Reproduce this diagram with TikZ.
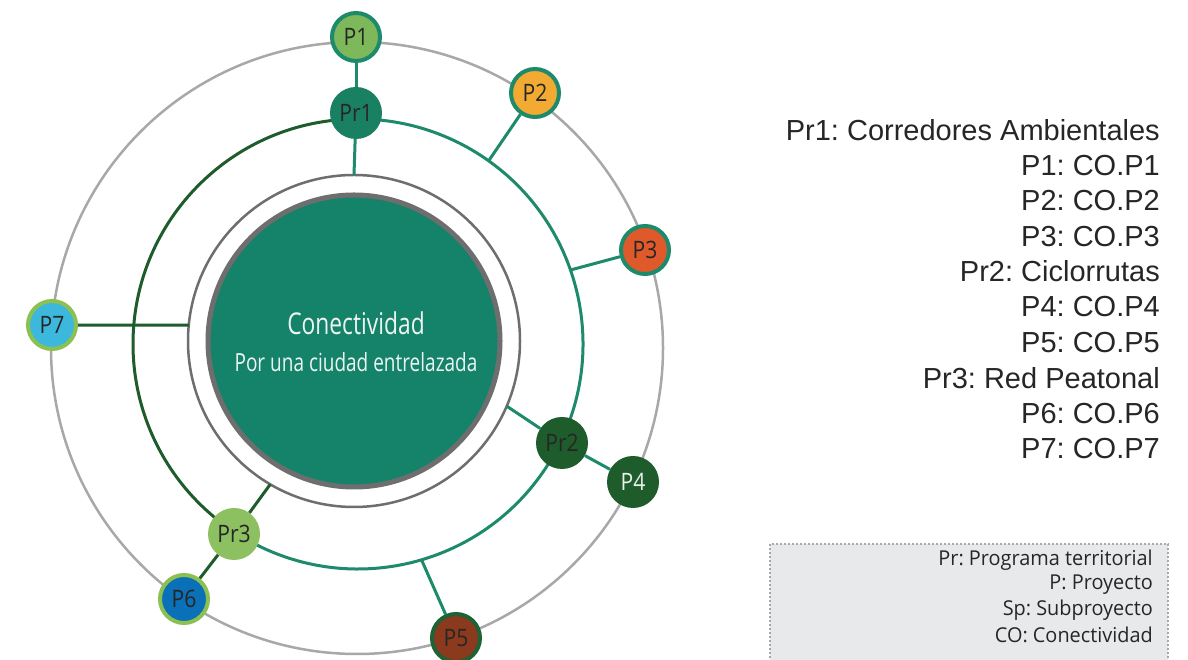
\documentclass[tikz,border=0pt]{standalone}
\usepackage{fontspec}
\usetikzlibrary{calc}
\frenchspacing
\newfontfamily\condf[FakeStretch=0.76]{Open Sans}
\newfontfamily\nodef[FakeStretch=0.88]{Open Sans}
\newfontfamily\boxf[FakeStretch=0.97]{Open Sans}
\newfontfamily\legf{Liberation Sans}
\definecolor{teal1}{HTML}{1E8A6C}
\definecolor{discc}{HTML}{15826A}
\definecolor{dkgreen}{HTML}{1E5C2B}
\definecolor{ltgreen}{HTML}{8CC152}
\definecolor{gray1}{HTML}{A8A8A8}
\definecolor{gray2}{HTML}{6E6E6E}
\definecolor{txtc}{HTML}{262626}
\definecolor{cP1}{HTML}{7DB85A}
\definecolor{cP2}{HTML}{F2AA32}
\definecolor{cP3}{HTML}{E0592A}
\definecolor{cP7}{HTML}{3CB8DC}
\definecolor{cP6}{HTML}{0A70B8}
\definecolor{cP5}{HTML}{8B3A1E}
\definecolor{cPr1}{HTML}{1A8062}
\definecolor{cPr3}{HTML}{8CC060}
\definecolor{boxfill}{HTML}{E8E9EB}
\begin{document}
\begin{tikzpicture}[x=1pt,y=1pt,
  bub/.style={circle,minimum size=48pt,inner sep=0pt,line width=4pt,
    font=\nodef\fontsize{24}{24}\selectfont,text=txtc},
  bubplain/.style={circle,minimum size=52pt,inner sep=0pt,
    font=\nodef\fontsize{24}{24}\selectfont,text=txtc},
  tealline/.style={draw=teal1,line width=3pt},
  darkline/.style={draw=dkgreen,line width=3pt},
  legtxt/.style={anchor=east,inner sep=0pt,font=\legf\fontsize{29}{30}\selectfont,text=txtc},
  boxtxt/.style={anchor=east,inner sep=0pt,font=\boxf\fontsize{20.5}{22}\selectfont,text=txtc}]
\useasboundingbox (0,0) rectangle (1188,660);
\fill[white] (0,0) rectangle (1188,660);
% centres
\coordinate (Co) at (357,312);
\coordinate (Cm) at (358,316);
\coordinate (Ci) at (354,319);
% rings
\draw[gray1,line width=2.5pt] (Co) circle (306);
\draw[dkgreen,line width=3pt] ($(Cm)+(90:225)$) arc (90:236.9:225);
\draw[teal1,line width=3pt] ($(Cm)+(-123.1:225)$) arc (-123.1:90:225);
\draw[gray2,line width=2.5pt] (Ci) circle (166);
\fill[discc] (Ci) circle (146);
\draw[gray2,line width=5pt] (Ci) circle (146);
\node[text=white!92!discc,font=\condf\fontsize{30}{30}\selectfont] (t1) at (356,337) {Conectividad};
\node[text=white!92!discc,font=\condf\fontsize{25}{25}\selectfont] (t2) at (356,298) {Por una ciudad entrelazada};
% ring points
\coordinate (gPr1) at ($(Ci)+(90:166)$);
\coordinate (gP7) at ($(Ci)+(174.5:166)$);
\coordinate (gPr2) at ($(Ci)+(-23.1:166)$);
\coordinate (gPr3) at ($(Ci)+(239.7:166)$);
\coordinate (mP2) at ($(Cm)+(54.5:225)$);
\coordinate (mP3) at ($(Cm)+(19.2:225)$);
\coordinate (mP5) at ($(Cm)+(-73.6:225)$);
% nodes
\node[bub,fill=cP1,draw=teal1] (P1) at (356,623) {P1};
\node[bubplain,fill=cPr1] (Pr1) at (356,547) {Pr1};
\node[bub,fill=cP2,draw=teal1] (P2) at (535,567) {P2};
\node[bub,fill=cP3,draw=teal1] (P3) at (645,410) {P3};
\node[bub,fill=cP7,draw=ltgreen] (P7) at (52,335) {P7};
\node[bubplain,fill=dkgreen,text=black!85] (Pr2) at (562,217) {Pr2};
\node[bubplain,fill=dkgreen,text=white!90!dkgreen] (P4) at (633,178) {P4};
\node[bubplain,fill=cPr3] (Pr3) at (234,126) {Pr3};
\node[bub,fill=cP6,draw=ltgreen] (P6) at (184,61) {P6};
\node[bub,fill=cP5,draw=dkgreen!85!teal1] (P5) at (456,22) {P5};
% connectors
\draw[tealline] (P1) -- (Pr1);
\draw[tealline] (Pr1) -- (gPr1);
\draw[tealline] (P2) -- (mP2);
\draw[tealline] (P3) -- (mP3);
\draw[darkline] (P7) -- (gP7);
\draw[tealline] (Pr2) -- (gPr2);
\draw[tealline] (Pr2) -- (P4);
\draw[darkline] (Pr3) -- (gPr3);
\draw[darkline] (Pr3) -- (P6);
\draw[tealline] (P5) -- (mP5);
% legend
\node[legtxt] (l1) at (1160,530) {Pr1: Corredores Ambientales};
\node[legtxt] (l2) at (1160,494.6) {P1: CO.P1};
\node[legtxt] (l3) at (1160,459.2) {P2: CO.P2};
\node[legtxt] (l4) at (1160,423.8) {P3: CO.P3};
\node[legtxt] (l5) at (1160,388.4) {Pr2: Ciclorrutas};
\node[legtxt] (l6) at (1160,353) {P4: CO.P4};
\node[legtxt] (l7) at (1160,317.6) {P5: CO.P5};
\node[legtxt] (l8) at (1160,282.2) {Pr3: Red Peatonal};
\node[legtxt] (l9) at (1160,246.8) {P6: CO.P6};
\node[legtxt] (l10) at (1160,211.4) {P7: CO.P7};
% box
\draw[fill=boxfill,draw=gray1,line width=2pt,dotted] (770,-6) rectangle (1168,116);
\node[boxtxt] (b1) at (1153,100) {Pr: Programa territorial};
\node[boxtxt] (b2) at (1153,75) {P: Proyecto};
\node[boxtxt] (b3) at (1153,50) {Sp: Subproyecto};
\node[boxtxt] (b4) at (1153,25) {CO: Conectividad};
\end{tikzpicture}
\end{document}
